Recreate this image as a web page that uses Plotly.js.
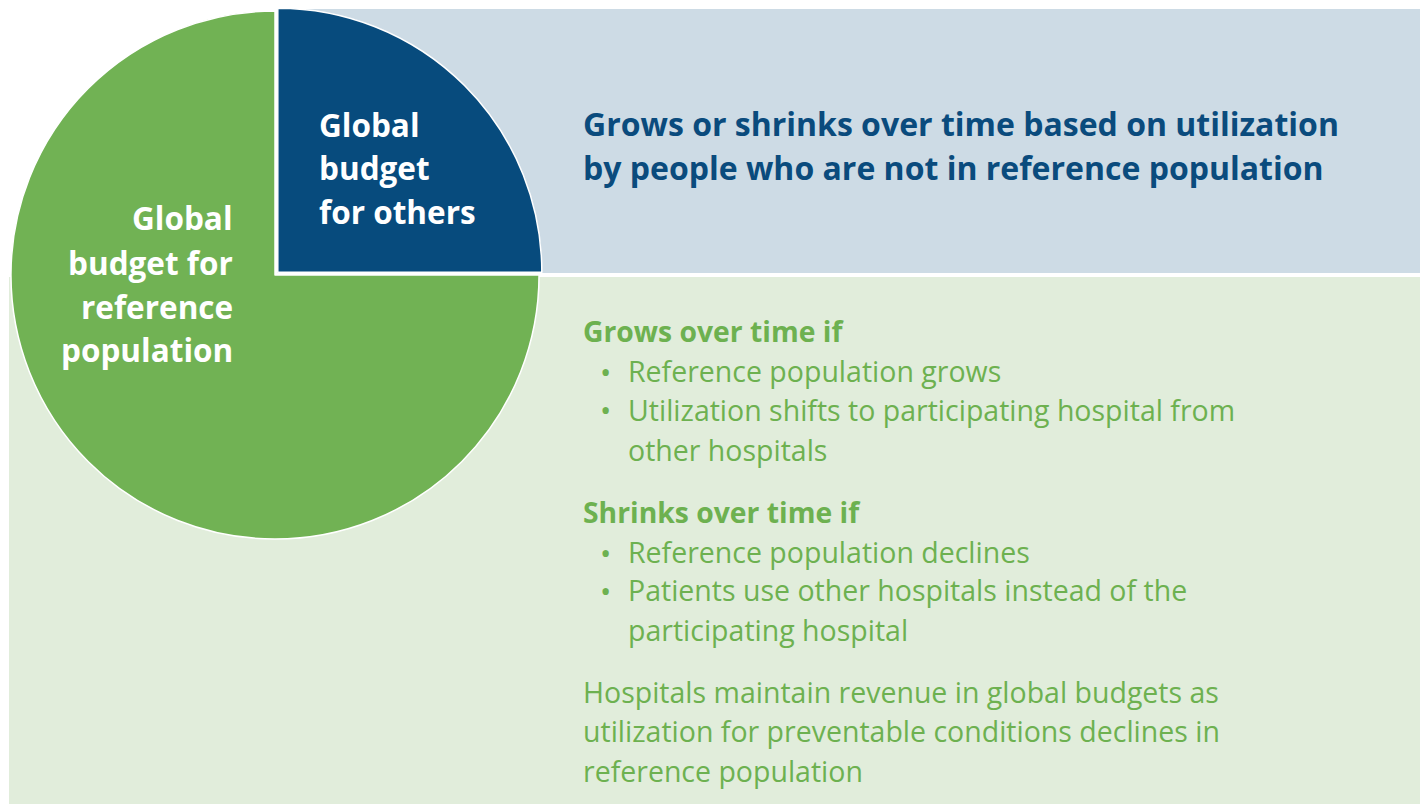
<!DOCTYPE html>
<html>
<head>
<meta charset="utf-8">
<script src="https://cdn.plot.ly/plotly-3.0.1.min.js"></script>
<style>html,body{margin:0;padding:0;background:#fff;}#chart{width:1423px;height:804px;}</style>
</head>
<body>
<div id="chart"></div>
<script>
// ---- data ----
var sliceLabels = ["Global budget for others", "Global budget for reference population"];
var sliceValues = [25, 75];
var sliceColors = ["#074B7D", "#71B254"];

var othersLabelLines = ["Global", "budget", "for others"];
var refLabelLines = ["Global", "budget for", "reference", "population"];
var headerLines = [
  "Grows or shrinks over time based on utilization",
  "by people who are not in reference population"
];
var growsHeading = "Grows over time if";
var growsBullets = ["Reference population grows", "Utilization shifts to participating hospital from", "other hospitals"];
var growsBulletMarks = [true, true, false];
var shrinksHeading = "Shrinks over time if";
var shrinksBullets = ["Reference population declines", "Patients use other hospitals instead of the", "participating hospital"];
var shrinksBulletMarks = [true, true, false];
var footerLines = [
  "Hospitals maintain revenue in global budgets as",
  "utilization for preventable conditions declines in",
  "reference population"
];

// ---- layout helpers ----
var W = 1423, H = 804;
function px(x) { return x / W; }
function py(y) { return 1 - y / H; }

var FONT = "'Open Sans', sans-serif";
var DARK = "#0A4B7D";
var GREEN_TXT = "#6DB150";

var annotations = [];
function addText(text, x, y, opts) {
  opts = opts || {};
  annotations.push({
    text: text, xref: "paper", yref: "paper",
    x: px(x), y: py(y), xanchor: opts.xanchor || "left", yanchor: "middle",
    showarrow: false,
    font: { family: FONT, size: opts.size || 28.5, color: opts.color || GREEN_TXT }
  });
}

// pie labels
var othersY = [125, 168, 211];
othersLabelLines.forEach(function (t, i) { addText("<b>" + t + "</b>", 317, othersY[i], { size: 31.5, color: "#ffffff" }); });
var refY = [218, 262, 306, 350];
refLabelLines.forEach(function (t, i) { addText("<b>" + t + "</b>", 235, refY[i], { size: 31.5, color: "#ffffff", xanchor: "right" }); });

// header
var headerY = [123, 167];
headerLines.forEach(function (t, i) { addText("<b>" + t + "</b>", 581, headerY[i], { size: 32, color: DARK }); });

// green section
addText("<b>" + growsHeading + "</b>", 581, 331, { size: 28.3 });
var growsY = [371, 410, 450];
growsBullets.forEach(function (t, i) {
  if (growsBulletMarks[i]) addText("•", 598, growsY[i], { size: 30 });
  addText(t, 626, growsY[i], { size: 28.5 });
});
addText("<b>" + shrinksHeading + "</b>", 581, 512, { size: 28.3 });
var shrinksY = [552, 590, 630];
shrinksBullets.forEach(function (t, i) {
  if (shrinksBulletMarks[i]) addText("•", 598, shrinksY[i], { size: 30 });
  addText(t, 626, shrinksY[i], { size: 28.5 });
});
var footerY = [692, 731, 771];
footerLines.forEach(function (t, i) { addText(t, 581, footerY[i], { size: 28.5 }); });

var shapes = [
  { type: "rect", xref: "paper", yref: "paper", layer: "below",
    x0: px(277), x1: px(1420), y0: py(273), y1: py(9),
    fillcolor: "#CDDBE5", line: { width: 0 } },
  { type: "rect", xref: "paper", yref: "paper", layer: "below",
    x0: px(9), x1: px(1420), y0: py(804), y1: py(277),
    fillcolor: "#E1EDDB", line: { width: 0 } }
];

var pull = 0.015;
var box = 536; // pixel size of pie domain box
var cx = 275, cy = 275;

var data = [{
  type: "pie",
  labels: sliceLabels,
  values: sliceValues,
  marker: { colors: sliceColors, line: { color: "#ffffff", width: 1.5 } },
  pull: [pull, 0],
  sort: false,
  direction: "clockwise",
  rotation: 0,
  textinfo: "none",
  hoverinfo: "label+percent",
  showlegend: false,
  domain: { x: [px(cx - box / 2), px(cx + box / 2)], y: [py(cy + box / 2), py(cy - box / 2)] }
}];

var layout = {
  width: W, height: H,
  margin: { l: 0, r: 0, t: 0, b: 0 },
  paper_bgcolor: "#ffffff",
  plot_bgcolor: "#ffffff",
  showlegend: false,
  shapes: shapes,
  annotations: annotations
};

Plotly.newPlot("chart", data, layout, { displayModeBar: false, staticPlot: true });
</script>
</body>
</html>
